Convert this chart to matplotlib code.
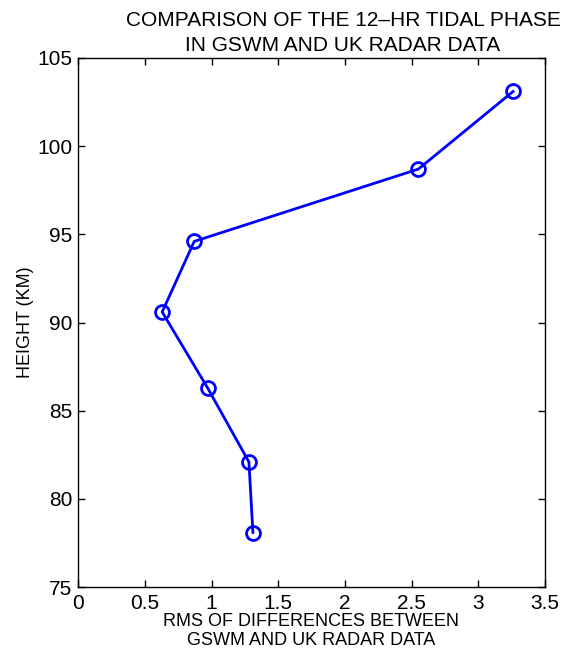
import matplotlib
matplotlib.use("Agg")
import matplotlib.pyplot as plt

# RMS of differences (x) vs height in km (y)
rms_diff = [1.31, 1.28, 0.97, 0.63, 0.87, 2.55, 3.26]
height_km = [78.1, 82.1, 86.3, 90.6, 94.6, 98.7, 103.1]

x_ticks = [0, 0.5, 1, 1.5, 2, 2.5, 3, 3.5]
x_tick_labels = ["0", "0.5", "1", "1.5", "2", "2.5", "3", "3.5"]
y_ticks = [75, 80, 85, 90, 95, 100, 105]

plt.rcParams["font.family"] = ["Liberation Sans", "DejaVu Sans"]

fig = plt.figure(figsize=(5.62, 6.51), dpi=100)
ax = fig.add_axes([0.139, 0.098, 0.831, 0.813])

ax.plot(rms_diff, height_km, color="blue", linewidth=2,
        marker="o", markersize=10, markerfacecolor="none",
        markeredgecolor="blue", markeredgewidth=2)

ax.set_xlim(0, 3.5)
ax.set_ylim(75, 105)
ax.set_xticks(x_ticks)
ax.set_xticklabels(x_tick_labels)
ax.set_yticks(y_ticks)
ax.tick_params(direction="in", length=5, width=1, labelsize=15,
               top=True, right=True)
ax.tick_params(axis="x", pad=5)
ax.tick_params(axis="y", pad=4)
for s in ax.spines.values():
    s.set_linewidth(1)

fig.text(343 / 562, 1 - 33 / 651, "COMPARISON OF THE 12\u2013HR TIDAL PHASE\nIN GSWM AND UK RADAR DATA",
         ha="center", va="center", fontsize=15, linespacing=1.35)
fig.text(311 / 562, 1 - 631 / 651, "RMS OF DIFFERENCES BETWEEN\nGSWM AND UK RADAR DATA",
         ha="center", va="center", fontsize=13, linespacing=1.2)
fig.text(25 / 562, 1 - 322 / 651, "HEIGHT (KM)", rotation=90,
         ha="center", va="center", fontsize=13)

fig.savefig("out.png", dpi=100)
